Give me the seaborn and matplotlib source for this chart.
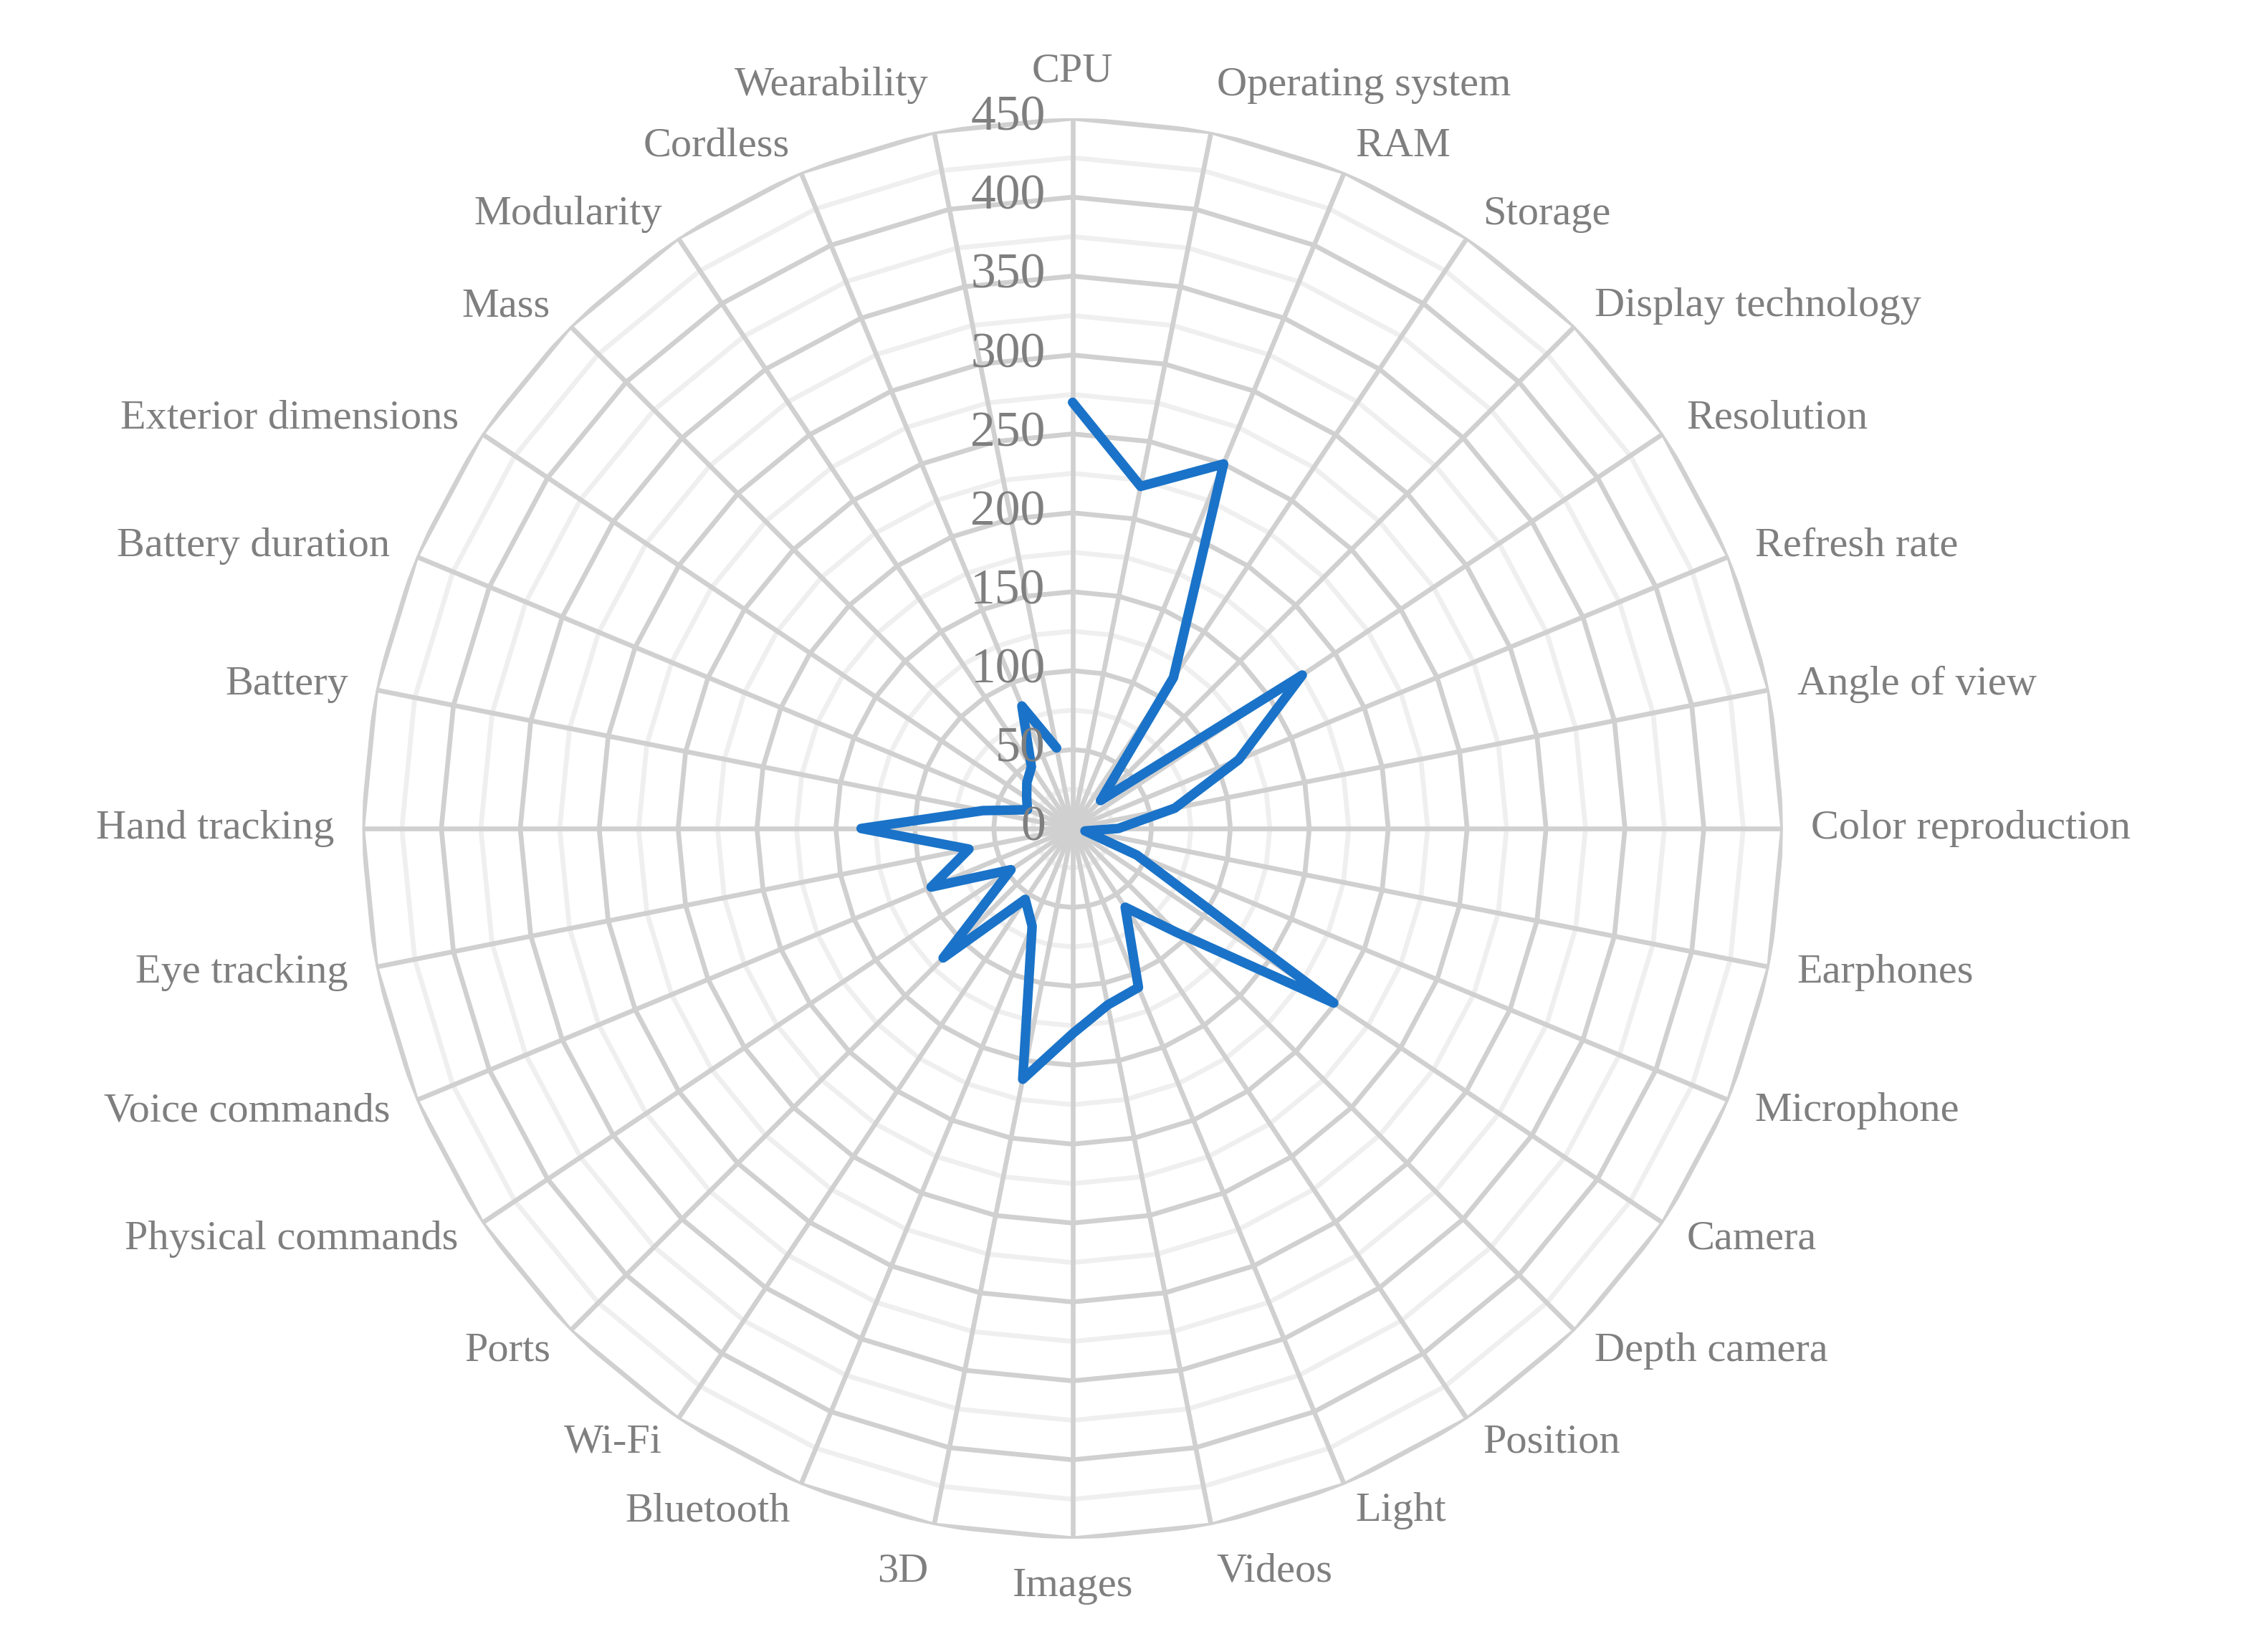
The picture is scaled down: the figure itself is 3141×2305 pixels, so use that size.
import numpy as np
import pandas as pd
import matplotlib
matplotlib.use("Agg")
import matplotlib.pyplot as plt
import matplotlib.transforms as mtransforms
import seaborn as sns

# Категории и значения
categories = ["CPU", "Operating system", "RAM", "Storage", "Display technology", "Resolution",
              "Refresh rate", "Angle of view", "Color reproduction", "Earphones", "Microphone",
              "Camera", "Depth camera", "Position", "Light", "Videos", "Images", "3D",
              "Bluetooth", "Wi-Fi", "Ports", "Physical commands", "Voice commands",
              "Eye tracking", "Hand tracking", "Battery", "Battery duration",
              "Exterior dimensions", "Mass", "Modularity", "Cordless", "Wearability"]
values = [270, 221, 250, 115, 25, 175, 114, 66, 29, 8, 44, 199, 93, 60, 109, 114, 130, 162,
          67, 54, 116, 47, 97, 67, 134, 58, 31, 35, 41, 47, 84, 52]
r_ticks = [0, 50, 100, 150, 200, 250, 300, 350, 400, 450]

sns.set_theme(style="white")
plt.rcParams['font.family'] = ['Liberation Serif', 'DejaVu Serif']

n = len(categories)
theta = np.arange(n) * 2 * np.pi / n
df = pd.DataFrame({'theta': np.append(theta, theta[0]), 'value': values + [values[0]]})

fig = plt.figure(figsize=(15.705, 11.525), dpi=200)
ax = fig.add_axes([0.161, 0.068, 0.631, 0.861], projection='polar')
ax.set_theta_zero_location('N')
ax.set_theta_direction(-1)
ax.set_ylim(0, 450)
ax.grid(False)
ax.spines['polar'].set_visible(False)
ax.set_xticks([])
ax.set_yticks([])

# Многоугольная сетка
closed = np.append(theta, theta[0])
for r in range(25, 451, 25):
    col = '#d0d0d0' if r % 50 == 0 else '#efefef'
    ax.plot(closed, [r] * (n + 1), color=col, lw=2.4, zorder=1)
for t in theta:
    ax.plot([t, t], [0, 450], color='#d0d0d0', lw=2.4, zorder=1)

sns.lineplot(data=df, x='theta', y='value', sort=False, ax=ax, color='#1a73c8',
             lw=4.8, zorder=3)
ax.set_xlabel('')
ax.set_ylabel('')

# Подписи шкалы
tr = mtransforms.offset_copy(ax.transData, fig=fig, x=-0.19, y=0, units='inches')
for r in r_ticks:
    ax.text(0, r, str(r), color='#7f7f7f', fontsize=25, ha='right', va='center',
            transform=tr, zorder=4)

# Подписи категорий
for t, lab in zip(theta, categories):
    s = np.sin(t)
    ha = 'center' if abs(s) < 0.05 else ('left' if s > 0 else 'right')
    c = np.cos(t)
    va = 'bottom' if c > 0.95 else ('top' if c < -0.95 else 'center')
    ax.text(t, 468, lab, color='#7f7f7f', fontsize=21, ha=ha, va=va)

plt.savefig('out.png', dpi=200)
